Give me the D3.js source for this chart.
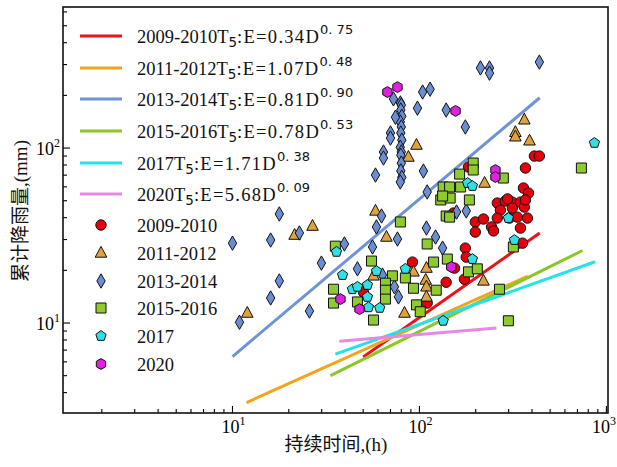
<!DOCTYPE html>
<html>
<head>
<meta charset="utf-8">
<script src="https://cdn.jsdelivr.net/npm/d3@7"></script>
<style>
  html, body { margin: 0; padding: 0; background: #fff; }
  svg { display: block; }
</style>
</head>
<body>
<svg id="chart" width="617" height="467"></svg>
<script>
// Rainfall events: [duration D (h), cumulative rainfall E (mm)]
const pts2009 = [[91.8,22.3],[50.2,15.0],[110,13.0],[139,17.1],[174,17.8],[176,26.8],[178,23.8],[154,20.6],[152,42.5],[199,37.8],[220,39.3],[243,35.4],[249,33.6],[199,33.1],[261,48.5],[288,49.8],[314,49.1],[314,45.4],[347,49.1],[364,46.0],[271,44.2],[261,39.8],[303,39.8],[334,40.3],[347,34.9],[378,39.8],[356,28.6],[412,90.0],[438,90.0],[369,76.9],[183,77.9],[360,59.1],[383,55.3],[296,51.2],[369,50.5]];
const pts2011 = [[26.8,35.8],[21.5,31.8],[12.0,11.4],[58.2,43.7],[66.6,31.0],[92.9,19.6],[56.8,18.6],[109,20.6],[108,17.6],[109,16.1],[83.2,11.4],[109,14.1],[220,17.4],[96.4,104],[87.3,88.8],[364,145],[326,123],[326,116],[388,110],[223,63.1]];
const pts2013 = [[10,28.6],[17.8,42.0],[16.0,29.8],[22.8,32.7],[17.8,17.4],[16.0,13.9],[10.9,10.1],[25.8,11.7],[29.9,22.0],[39.7,28.3],[62.7,40.9],[58.9,35.4],[76.3,30.2],[56.1,27.2],[46.6,20.4],[63.4,18.8],[73.5,16.1],[77.2,14.1],[109,34.9],[122,31.0],[133,26.8],[158,43.1],[178,43.7],[212,287],[237,287],[237,268],[438,310],[72.6,191],[104,209],[114,217],[97.6,169],[139,165],[176,132],[79.1,181],[80,176],[79.5,165],[80.5,152],[79,141],[80,132],[79.5,122],[80.5,111],[79,101],[80,95],[79.5,91],[80,82],[79.5,74],[80.5,68],[79,64],[74.4,150],[70.0,122],[70.0,114],[64.2,94.9],[64.2,87.7],[58.2,70.1],[105,73.9],[110,56.1]];
const pts2015 = [[79.1,37.8],[35.5,27.5],[55.4,22.6],[71.7,18.6],[84.1,18.1],[110,28.3],[34.7,15.6],[65.8,16.9],[65.8,15.4],[92.9,15.8],[34.7,13.0],[46.6,13.2],[65.8,13.7],[96.4,12.7],[101,11.6],[56.8,10.4],[123,15.4],[119,22.3],[139,40.9],[185,50.5],[130,50.5],[146,51.8],[145,40.3],[141,23.2],[183,19.6],[204,20.4],[268,15.6],[299,10.3],[194,82.1],[194,74.9],[164,71.0],[281,67.4],[166,59.9],[134,59.9],[145,59.9],[133,53.2],[318,27.2],[735,76.9]];
const pts2017 = [[36.0,25.5],[38.8,18.8],[43.8,15.6],[46.6,16.1],[52.7,16.5],[58.9,19.8],[84.1,20.4],[52.7,14.1],[53.4,12.3],[61.3,12.2],[134,10.3],[181,63.1],[192,60.7],[192,23.2],[299,39.8],[322,29.8],[863,107]];
const pts2020 = [[67.4,209],[76.3,223],[156,163],[255,74.9],[255,68.3],[148,20.9],[37.8,13.7],[47.8,12.0]];

// Power-law fits E = a * D^b and the duration range each one covers
const fitNames = ["2009-2010", "2011-2012", "2013-2014", "2015-2016", "2017", "2020"];
const fitA = [0.34, 1.07, 0.81, 0.78, 1.71, 5.68];
const fitB = [0.75, 0.48, 0.90, 0.53, 0.38, 0.09];
const fitAText = ["0.34", "1.07", "0.81", "0.78", "1.71", "5.68"];
const fitBText = ["0. 75", "0. 48", "0. 90", "0. 53", "0. 38", "0. 09"];
const fitDmin = [50, 11.9, 10, 33.4, 35.5, 37.3];
const fitDmax = [440, 380, 440, 745, 870, 258];

const seriesNames = ["2009-2010", "2011-2012", "2013-2014", "2015-2016", "2017", "2020"];
const xTicks = [10, 100, 1000];
const xTickExp = ["1", "2", "3"];
const yTicks = [10, 100];
const yTickExp = ["1", "2"];

// ---- styling ----
const lineColors = ["#e8141c", "#f2a41c", "#6f93d6", "#8cc628", "#22e3ea", "#e58ae2"];
const fillColors = ["#e6000c", "#dfa23c", "#6a8ed4", "#8dcb2e", "#2fe0e6", "#e022e0"];
const shapes = ["circle", "triangle", "diamond", "square", "pentagon", "hexagon"];
const serif = "'Times New Roman', 'Liberation Serif', serif";
const cjk = "'Times New Roman', 'Liberation Serif', 'Noto Sans CJK SC', serif";
const sans = "'DejaVu Sans', sans-serif";

const svg = d3.select("#chart");
const L = 63, R = 608, T = 7, B = 413;
const W = 617;

const x = d3.scaleLog().domain([1.24, 1020]).range([L, R]);
const y = d3.scaleLog().domain([3.06, 640]).range([B, T]);

function polygon(n, r, rot) {
  const p = [];
  for (let i = 0; i < n; i++) {
    const a = rot + i * 2 * Math.PI / n;
    p.push([r * Math.sin(a), -r * Math.cos(a)]);
  }
  return "M" + p.map(q => q[0].toFixed(2) + "," + q[1].toFixed(2)).join("L") + "Z";
}
function shapePath(kind) {
  switch (kind) {
    case "circle": return d3.symbol(d3.symbolCircle, Math.PI * 5.2 * 5.2)();
    case "triangle": return "M0,-6.6L5.8,4.2L-5.8,4.2Z";
    case "diamond": return "M0,-7.2L4.2,0L0,7.2L-4.2,0Z";
    case "square": return "M-5,-5L5,-5L5,5L-5,5Z";
    case "pentagon": return polygon(5, 5.4, 0);
    case "hexagon": return polygon(6, 5.4, 0);
  }
}

// ---- axis ticks (inside) ----
const axisG = svg.append("g");
d3.range(0, 4).forEach(p => {
  for (let m = 1; m <= 9; m++) {
    const v = m * Math.pow(10, p);
    if (v < x.domain()[0] || v > x.domain()[1]) continue;
    const len = m === 1 ? 7 : 4;
    axisG.append("line").attr("x1", x(v)).attr("x2", x(v))
      .attr("y1", B).attr("y2", B - len)
      .attr("stroke", "#000").attr("stroke-width", 1.1);
  }
});
d3.range(0, 3).forEach(p => {
  for (let m = 1; m <= 9; m++) {
    const v = m * Math.pow(10, p);
    if (v < y.domain()[0] || v > y.domain()[1]) continue;
    const len = m === 1 ? 7 : 4;
    axisG.append("line").attr("x1", L).attr("x2", L + len)
      .attr("y1", y(v)).attr("y2", y(v))
      .attr("stroke", "#000").attr("stroke-width", 1.1);
  }
});

// tick labels with exponents; the last one is kept inside the canvas edge
xTicks.forEach((v, i) => {
  const atEdge = x(v) + 14 > W;
  const t = svg.append("text")
    .attr("x", atEdge ? W - 1 : x(v) + 1).attr("y", B + 20)
    .attr("text-anchor", atEdge ? "end" : "middle")
    .attr("font-family", serif).attr("font-size", 18);
  t.append("tspan").text("10");
  t.append("tspan").attr("dy", -8).attr("font-size", 12).text(xTickExp[i]);
});
yTicks.forEach((v, i) => {
  const t = svg.append("text").attr("x", L - 3).attr("y", y(v) + 7)
    .attr("text-anchor", "end").attr("font-family", serif).attr("font-size", 18);
  t.append("tspan").text("10");
  t.append("tspan").attr("dy", -8).attr("font-size", 12).text(yTickExp[i]);
});

// ---- fitted lines ----
const lineGen = d3.line().x(d => x(d[0])).y(d => y(d[1]));
fitA.forEach((a, i) => {
  const ends = [fitDmin[i], fitDmax[i]].map(D => [D, a * Math.pow(D, fitB[i])]);
  svg.append("path").attr("d", lineGen(ends))
    .attr("fill", "none").attr("stroke", lineColors[i])
    .attr("stroke-width", 3);
});

// ---- scatter ----
const allPts = [pts2009, pts2011, pts2013, pts2015, pts2017, pts2020];
allPts.forEach((pts, i) => {
  svg.append("g").selectAll("path").data(pts).join("path")
    .attr("d", shapePath(shapes[i]))
    .attr("transform", d => `translate(${x(d[0])},${y(d[1])})`)
    .attr("fill", fillColors[i])
    .attr("stroke", "#111").attr("stroke-width", 1);
});

// ---- frame ----
svg.append("rect").attr("x", L).attr("y", T).attr("width", R - L).attr("height", B - T)
  .attr("fill", "none").attr("stroke", "#111").attr("stroke-width", 1.6);

// ---- legend: fitted lines ----
const lineRowY = [36, 68, 99, 131, 163, 194];
fitNames.forEach((name, i) => {
  const yy = lineRowY[i];
  svg.append("line").attr("x1", 80).attr("x2", 122).attr("y1", yy).attr("y2", yy)
    .attr("stroke", lineColors[i]).attr("stroke-width", 3);
  const t = svg.append("text").attr("x", 137).attr("y", yy + 7)
    .attr("font-family", serif).attr("font-size", 18.5).attr("fill", "#111");
  t.append("tspan").text(name + "T");
  t.append("tspan").attr("dy", 4).attr("font-family", sans).attr("font-size", 13.5).text("5");
  t.append("tspan").attr("dy", -4).attr("letter-spacing", 1.3)
    .text(":E=" + fitAText[i] + "D");
  t.append("tspan").attr("dy", -9).attr("font-family", sans).attr("font-size", 13).text(fitBText[i]);
});

// ---- legend: markers ----
const markRowY = [225, 253, 281, 308, 336, 364];
seriesNames.forEach((name, i) => {
  const yy = markRowY[i];
  svg.append("path").attr("d", shapePath(shapes[i]))
    .attr("transform", `translate(101,${yy})`)
    .attr("fill", fillColors[i]).attr("stroke", "#111").attr("stroke-width", 1);
  svg.append("text").attr("x", 137).attr("y", yy + 7)
    .attr("font-family", serif).attr("font-size", 18.5).attr("fill", "#111").text(name);
});

// ---- axis titles ----
svg.append("text").attr("x", 336).attr("y", 451).attr("text-anchor", "middle")
  .attr("font-family", cjk).attr("font-size", 19).attr("fill", "#111").text("持续时间,(h)");
svg.append("text").attr("transform", "translate(27,211) rotate(-90)")
  .attr("text-anchor", "middle").attr("font-family", cjk).attr("font-size", 19)
  .attr("fill", "#111").text("累计降雨量,(mm)");
</script>
</body>
</html>
